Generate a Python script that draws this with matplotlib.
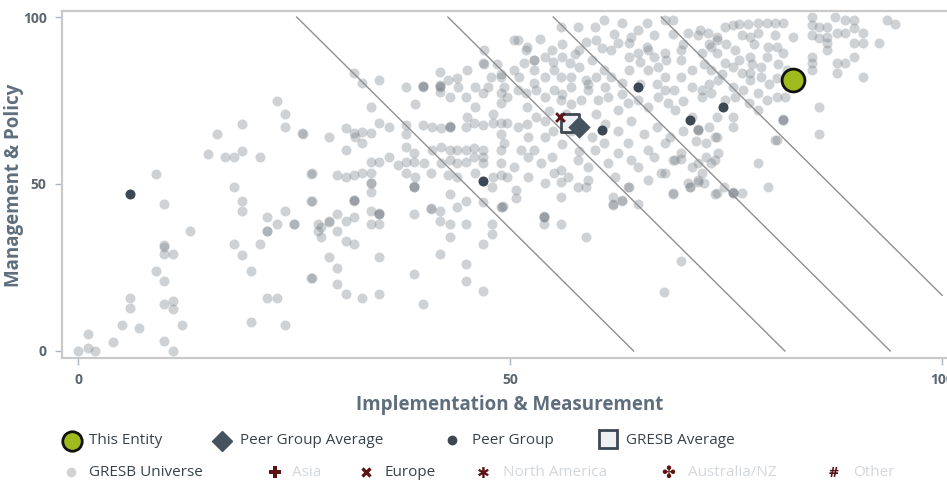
import numpy as np
import matplotlib.pyplot as plt

plt.rcParams['font.family'] = ['Open Sans', 'DejaVu Sans']

# ---------------- data ----------------
# GRESB universe: (Implementation & Measurement, Management & Policy)
universe = [
    (0, 0), (1.1, 5), (1.1, 1), (2, 0), (4.1, 2.8), (5.1, 7.8), (6, 16), (6, 13), (7.1, 6.9),
    (9, 53), (10, 44), (10, 31.7), (10, 31), (10, 29), (11, 29), (9, 24), (10, 21), (10, 14),
    (11, 12.5), (11, 15), (12, 7.8), (10, 3), (11, 0), (13, 36), (15, 59), (16.1, 65), (17, 58),
    (18.1, 58), (19, 60), (19, 68), (21, 58), (18.1, 49), (19, 45), (19, 42), (18.1, 32),
    (19, 28.7), (20, 24), (20, 8.8), (21, 32), (21.9, 36), (21.9, 36), (21.9, 40), (23, 38),
    (23.9, 42), (25, 38), (21.9, 16), (23, 16), (23.9, 7.8), (23, 75), (23.9, 71), (23.9, 67),
    (26, 65), (27, 53), (27, 45), (27.8, 38), (27.8, 36), (27, 22),
    (31.9, 83.1), (32.9, 80.1), (34.8, 81.1), (33.9, 73.1), (37.9, 79.1), (39, 74), (39.9, 79.1),
    (39.9, 79.4), (39.9, 79.2), (41.9, 79.1), (41.9, 79.6), (41.9, 79.3), (41.9, 83.6), (41.9, 77.5),
    (42.8, 81.1), (43.8, 81.6), (44.9, 76.1), (45.9, 79.1), (46.9, 86.1), (46.9, 77.1), (47.8, 82.1),
    (49, 82.1), (49, 77.1), (45.9, 73.1), (45, 70), (49, 74.2), (48, 71), (47.4, 79), (50.5, 93),
    (47, 86), (49, 83), (52.8, 87),
    (25.9, 65.2), (29, 64.2), (32, 64), (31, 66.7), (31.9, 65.2), (32.9, 65.5), (33.9, 65.2),
    (32.9, 62.2), (34.8, 68.2), (36, 67), (37.9, 67.7), (37.9, 65), (39.9, 67.7), (41, 67.2),
    (42, 66.8), (43, 67.2), (43, 67.5), (43, 67.0), (44.9, 67.2), (45.8, 68.2), (46.9, 67.7),
    (48, 68.2), (49, 68.2), (49, 65),
    (31, 60.2), (37.9, 61.2), (38.9, 59.2), (41, 60.2), (42, 61.2), (43, 60.2), (43.9, 60.2),
    (44.9, 60.2), (45.8, 60.8), (46.9, 60.2), (46.9, 58.2), (49, 60.2),
    (33.9, 56.7), (34.8, 56.7), (36, 58.2), (37, 55.7), (37.9, 56.7), (38.9, 56.7), (40, 56.3),
    (42, 56.2), (43, 57.2), (43.9, 56.2), (44.9, 56.7), (45.8, 58.2), (46.9, 56.2), (49, 56.2),
    (27.1, 53.2), (30, 52.7), (31, 52.2), (31.9, 52.7), (32.9, 53.2), (33.9, 53.2), (37.9, 53.2),
    (39, 52.2), (40.8, 53.2), (42.8, 52.7), (43.9, 52.2), (45.9, 53.2), (48, 52.2), (49, 52.7),
    (33.9, 50.2),
    (27.1, 45), (31.9, 45), (31.9, 45.3), (31.9, 45.1), (33.9, 50.3), (33.9, 47.7), (38.9, 49),
    (38.9, 49.3), (38.9, 49.1), (25, 38), (28.1, 37), (29, 38.5), (29, 38.8), (30, 41), (30, 36),
    (31, 39), (31.9, 40), (28.1, 34), (31, 33), (31.9, 32), (33.9, 42), (34.8, 41), (34.8, 41.3),
    (34.8, 41.1), (33.9, 38), (34.8, 38), (38.9, 41), (40.8, 42.5), (40.8, 42.8), (41.9, 42),
    (41.9, 39), (43, 47), (43, 38), (43, 34), (43.9, 43), (44.9, 45), (44.9, 38), (46.9, 44.5),
    (47.9, 49), (47.9, 38), (47.9, 35), (46.9, 32), (49, 43), (49.2, 43.3), (49.1, 43.1),
    (29, 28), (30, 24.8), (34.8, 28), (41.9, 29), (44.9, 26), (27.1, 22), (30, 20), (31, 17),
    (32.9, 16), (34.8, 17), (38.9, 23), (39.9, 14), (44.9, 21), (46.9, 18),
    (50.9, 93.1), (51.9, 90.1), (52.8, 87.1), (54.8, 90.1), (55.9, 97.1), (57.9, 97.1),
    (58.8, 92.6), (59.8, 97.1), (60.9, 99.1), (62.9, 98.1), (64.8, 96.1), (65.8, 98.1),
    (66.7, 94.6), (67.9, 99.1), (68.9, 99.1), (68.9, 95), (70.6, 95.1), (71.8, 94.6),
    (72.9, 95.1), (73.9, 93.1),
    (60.6, 90.6), (61.7, 90.1), (62.5, 92.1), (63.8, 92.1), (63.8, 88), (64.8, 89.1),
    (65.8, 91.1), (66.7, 88.1), (67.9, 89.1), (69.8, 90.1), (69.8, 87.1), (72.2, 89.1),
    (73.3, 91.1), (56, 92), (57.5, 89), (59.5, 87), (55, 86.5), (53.5, 93.5), (58, 85),
    (50.5, 84.1), (51.6, 86.1), (52.8, 84.1), (54, 82.1), (55.1, 84.1), (55.9, 82.1),
    (56.9, 86.1), (57, 82.1), (58.8, 81.1), (60, 82.1), (60.9, 84.1), (61.7, 82.1),
    (62.9, 80.1), (63.8, 84.1), (66, 84.1), (67.1, 85.1), (67.9, 82.1), (67.9, 78.1),
    (69.8, 82.1), (71, 79.1), (72.2, 78.1), (73.3, 84.1), (74.1, 81.1), (65, 86.5),
    (49.3, 79.1), (49.7, 76.1), (50.9, 78.1), (51.9, 77.1), (52.8, 80.1), (54, 76.1),
    (55.1, 78.1), (55.9, 75.1), (57, 74.1), (58.2, 75.1), (59, 78.1), (60.2, 75.1),
    (61.3, 76.1), (62.5, 72.1), (63.7, 74.2), (64.8, 75.1), (66, 73.1), (67.1, 76.1),
    (68.3, 74.2), (69.1, 72.1), (71, 70.1), (72.2, 76.1), (73.3, 77.1),
    (53, 70), (54.5, 72), (57, 66), (59.5, 64), (61, 68), (62.5, 66), (64, 69), (65.5, 65),
    (67, 67), (68.5, 64), (70, 66), (71.5, 63), (73, 67), (52, 73), (56, 62), (58, 60), (60, 71),
    (49.7, 68.2), (50.9, 67.2), (52.1, 64.2), (52.8, 60.2), (54, 64.2), (54.8, 58.2),
    (55.9, 54.2), (52.1, 58.2), (50.5, 55.2), (49.7, 52.2), (52.1, 52.2), (54, 50.2),
    (55.1, 53.2), (56.7, 52.2), (57.9, 57.2), (59, 55.2), (59.8, 60.2), (60.9, 62.2),
    (61.3, 56.2), (62.5, 59.2), (63.7, 62.2), (64, 57.2), (64.8, 55.2), (66, 60.2),
    (66.7, 58.2), (67.9, 62.2), (69.1, 57.2), (69.8, 59.2), (71, 55.2), (72.2, 53.2),
    (73.3, 56.2), (74.1, 59.2), (66, 51.2), (67.5, 53.2), (70.6, 50.2), (72.5, 50.2),
    (62.1, 52.2), (59, 51.2), (57.9, 49.2), (53.6, 56.2), (51.3, 60.2), (49.3, 62.2),
    (50.7, 48.2), (50.7, 45.7), (53.9, 40), (53.9, 40.3), (53.9, 40.1), (53.9, 38), (55.9, 46),
    (55.9, 38), (55.9, 50.7), (58.8, 49), (58.8, 34), (61.9, 46), (61.9, 43.7), (61.9, 44),
    (62.9, 45), (63.8, 49), (64.8, 44), (68.9, 47), (70.8, 49), (71.8, 50.7), (73.7, 47),
    (69.8, 27), (67.8, 17.8), (62.9, 45.2), (63.6, 49.2),
    (75.8, 47.2), (75.8, 47.5), (75.8, 47.3), (73.9, 47.2), (76.8, 47.2), (74.8, 49.2),
    (79.9, 49.2), (78.7, 56.2), (80.7, 63.2), (81.6, 69.2), (81.6, 69.5), (81.6, 69.3),
    (71.8, 66.2), (71.8, 66.5), (71.8, 66.3), (73.9, 64.2), (72.7, 62.2), (68.9, 57.2),
    (69.8, 57.5), (71.8, 56.2), (72.7, 58.2), (67.9, 53.2), (68.9, 47.2), (70.8, 49.2),
    (71.8, 51.2),
    (84.9, 100), (87.6, 100), (88.8, 99.1), (89.8, 99.1), (89.8, 96.6), (93.6, 99.1),
    (94.6, 97.9), (84.9, 97.6), (85.7, 97.1), (86.7, 97.1), (84.9, 94.6), (85.7, 93.6),
    (86.7, 94.1), (87.8, 95.1), (88.8, 95.1), (89.8, 92.1), (90.9, 95.1), (90.9, 92.1),
    (92.7, 92.1), (86.7, 92.1), (86.7, 90.1), (84.9, 88.1), (84.9, 86.1), (84.9, 84.1),
    (87.8, 86.1), (88.8, 86.1), (89.8, 88.1), (87.8, 83.1), (90.9, 82.1), (85.7, 73.1),
    (85.7, 65), (80.9, 63.2), (73.7, 57.2), (73.7, 64.2), (81.8, 76.1), (80.9, 76.1),
    (80.9, 81.6), (82.8, 94.1), (81.6, 89.1), (81.6, 98.1),
    (80.7, 98.1), (80.7, 94.6), (79.7, 98.1), (79.7, 88.1), (78.7, 98.1), (78.7, 95.1),
    (77.8, 94.1), (76.8, 94.6), (75.8, 97.6), (74.9, 97.1), (73.9, 94.1), (73.9, 89.1),
    (74.9, 86.1), (75.8, 85.1), (77.8, 88.1), (77.8, 83.1), (77.8, 81.1), (78.7, 77.1),
    (79.7, 75.1), (80.9, 91.1), (79.9, 91.1), (76.8, 83.1), (75.8, 79.1), (74.9, 75.1),
    (75.8, 70.1), (73.9, 70.1), (78.7, 72.2), (77.6, 74.2), (75.8, 67.2),
    (76.5, 98), (77.5, 98), (78.2, 92), (76, 90), (75, 92), (79, 85), (78, 86), (76.5, 87),
    (74.5, 83), (73, 80), (76, 76), (77, 78), (80, 80), (79, 82), (81, 86), (82, 84),
    (72, 96), (73, 92), (72.5, 86), (71, 84), (70, 92), (68, 87), (66, 90), (64, 94),
    (62, 95), (60, 93), (58, 90), (56, 88), (54, 88), (52, 91), (57, 79), (59, 80),
    (61, 79), (63, 77), (65, 80), (67, 80), (69, 78), (70, 75), (56, 77), (53, 78),
    (51, 82), (48.5, 86), (47, 90), (45, 84), (44, 79), (43, 76), (52, 68), (55, 66),
    (54, 69), (56.5, 71),
]

peer_group = [(6, 47), (46.9, 50.9), (64.8, 79.1), (70.8, 69.2), (60.6, 66.2), (74.7, 73.1)]

this_entity = (82.8, 81.1)
peer_group_avg = (58.0, 67.0)
gresb_avg = (56.9, 68.2)
europe = (55.8, 70.0)

# iso-score lines: x + score_ratio * y = level
score_ratio = 0.39
score_levels = [64.3, 81.8, 94.0, 106.5]

legend_row1 = ['This Entity', 'Peer Group Average', 'Peer Group', 'GRESB Average']
legend_row2 = ['GRESB Universe', 'Asia', 'Europe', 'North America', 'Australia/NZ', 'Other']

# ---------------- figure ----------------
W, H = 947, 487
fig = plt.figure(figsize=(W / 100, H / 100), dpi=100)
ax = fig.add_axes([62 / W, 1 - 358 / H, (W + 2 - 62) / W, (358 - 11) / H])

ux = np.array([p[0] for p in universe])
uy = np.array([p[1] for p in universe])
ax.scatter(ux, uy, s=52, color='#6e777f', alpha=0.33, linewidths=0, zorder=2)

for lvl in score_levels:
    y_end = max(0.0, (lvl - 100) / score_ratio)
    ys = np.array([100.0, y_end])
    xs = lvl - score_ratio * ys
    ax.plot(xs, ys, color='#8f8f8f', lw=1.0, zorder=3)

px = [p[0] for p in peer_group]
py = [p[1] for p in peer_group]
ax.scatter(px, py, s=52, color='#3b4753', linewidths=0, zorder=4)

ax.scatter(*gresb_avg, marker='s', s=170, facecolor='#eef0f2', edgecolor='#3b4753',
           linewidths=2, zorder=5)
ax.scatter(*peer_group_avg, marker='D', s=130, color='#45535f', linewidths=0, zorder=6)
ax.scatter(*europe, marker='x', s=40, color='#5c1414', linewidths=2, zorder=7)
ax.scatter(*this_entity, s=270, facecolor='#9fba1c', edgecolor='#111111', linewidths=2, zorder=8)

ax.set_xlim(-1.86, 100.8)
ax.set_ylim(-2.1, 101.8)
ax.set_xticks([0, 50, 100])
ax.set_yticks([0, 50, 100])
ax.tick_params(colors='#a9b6c3', length=5, width=1, labelsize=10, labelcolor='#5b6670', pad=6)
for lab in ax.get_xticklabels() + ax.get_yticklabels():
    lab.set_fontweight('bold')
for side in ['left', 'top', 'bottom']:
    ax.spines[side].set_color('#c9c9c9')
    ax.spines[side].set_linewidth(1.6)
ax.spines['right'].set_visible(False)

ax.set_xlabel('Implementation & Measurement', fontsize=13.5, fontweight='bold', color='#5f6e7c')
ax.set_ylabel('Management & Policy', fontsize=13.5, fontweight='bold', color='#5f6e7c')
ax.xaxis.set_label_coords((509 - 62) / 885, (358 - 395) / 347)
ax.yaxis.set_label_coords((24 - 62) / 885, (358 - 185) / 347)

# ---------------- legend ----------------
lax = fig.add_axes([0, 0, 1, 1])
lax.set_xlim(0, W)
lax.set_ylim(H, 0)
lax.axis('off')

dark_txt = '#38424b'
faded_txt = '#d3d7db'
red = '#5c1414'
r1, r2 = 441, 473
fs = 11

lax.plot(72, r1, 'o', ms=14, mfc='#9fba1c', mec='#111111', mew=2)
lax.text(89, r1, legend_row1[0], fontsize=fs, color=dark_txt, va='center')
lax.plot(222, r1, 'D', ms=10, color='#45535f')
lax.text(240, r1, legend_row1[1], fontsize=fs, color=dark_txt, va='center')
lax.plot(452, r1 - 1, 'o', ms=6, color='#3b4753')
lax.text(472, r1, legend_row1[2], fontsize=fs, color=dark_txt, va='center')
lax.plot(608, r1 - 2, 's', ms=13, mfc='#eef0f2', mec='#3b4753', mew=2)
lax.text(626, r1, legend_row1[3], fontsize=fs, color=dark_txt, va='center')

lax.plot(71, r2 - 1, 'o', ms=6, color='#d2d2d2')
lax.text(89, r2, legend_row2[0], fontsize=fs, color=dark_txt, va='center')
lax.plot(275, r2 - 1, 'P', ms=9, color=red, mew=0)
lax.text(292, r2, legend_row2[1], fontsize=fs, color=faded_txt, va='center')
lax.plot(366, r2 - 1, 'x', ms=6, color=red, mew=2.4)
lax.text(384, r2, legend_row2[2], fontsize=fs, color=dark_txt, va='center')
lax.text(483, r2, '\u2731', fontsize=11, color=red, va='center', ha='center',
         family=['DejaVu Sans'])
lax.text(503, r2, legend_row2[3], fontsize=fs, color=faded_txt, va='center')
lax.text(668, r2, '\u2724', fontsize=12, color=red, va='center', ha='center',
         family=['DejaVu Sans'])
lax.text(688, r2, legend_row2[4], fontsize=fs, color=faded_txt, va='center')
lax.text(834, r2, '#', fontsize=11, color=red, va='center', ha='center', fontweight='bold')
lax.text(853, r2, legend_row2[5], fontsize=fs, color=faded_txt, va='center')

fig.savefig('out.png', dpi=100)
